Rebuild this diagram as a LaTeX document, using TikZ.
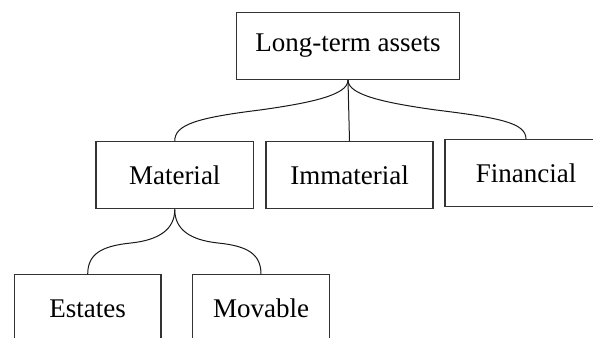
\documentclass[tikz,border=0pt]{standalone}
\usepackage{fontspec}
\setmainfont{Liberation Serif}
\begin{document}
\begin{tikzpicture}[x=0.75pt,y=-0.75pt,
  box/.style={draw=black!80,line width=0.9pt,rectangle,inner sep=0pt,
    minimum height=50.4pt,font=\fontsize{20.25}{24}\selectfont},
  link/.style={draw=black!90,line width=0.75pt}]
\useasboundingbox (0,0) rectangle (593,338);
\clip (0,0) rectangle (593,338);
\node[box,minimum width=166.7pt] (top) at (348,46) {Long-term assets};
\node[box,minimum width=118.1pt] (mat) at (174.75,175.25) {Material};
\node[box,minimum width=125.25pt] (imm) at (349.5,175.25) {Immaterial};
\node[box,minimum width=121.5pt] (fin) at (526,173.25) {Financial};
\node[box,minimum width=110pt] (est) at (87.7,308.5) {Estates};
\node[box,minimum width=102.75pt] (mov) at (261,308.5) {Movable};
\coordinate (m1) at (260,110);
\coordinate (m2) at (436,110);
\coordinate (m3) at (131,243);
\coordinate (m4) at (218,243);
\draw[link] (top.south) .. controls +(0,15) and +(50,-7) .. (m1)
  .. controls +(-65,8) and +(0,-16) .. (mat.north);
\draw[link] (top.south) -- (imm.north);
\draw[link] (top.south) .. controls +(0,15) and +(-50,-7) .. (m2)
  .. controls +(65,8) and +(0,-16) .. (fin.north);
\draw[link] (mat.south) .. controls +(0,20) and +(28,-3) .. (m3)
  .. controls +(-30,3) and +(0,-20) .. (est.north);
\draw[link] (mat.south) .. controls +(0,20) and +(-28,-3) .. (m4)
  .. controls +(30,3) and +(0,-20) .. (mov.north);
\end{tikzpicture}
\end{document}
